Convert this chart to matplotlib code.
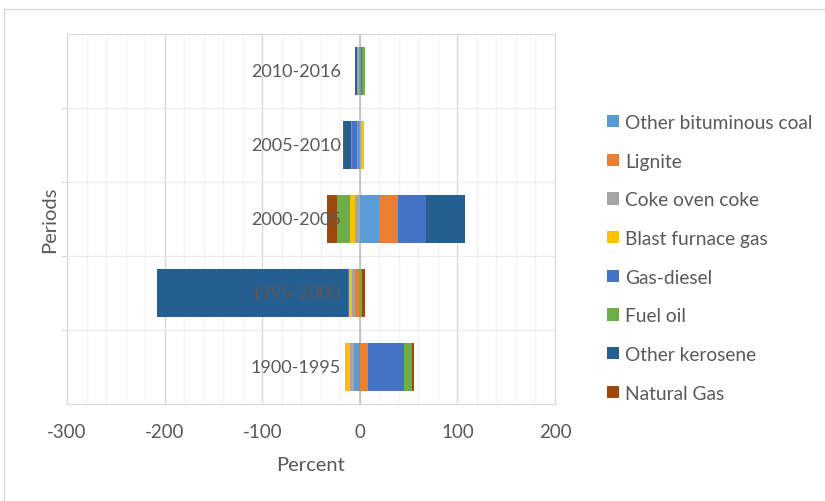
import matplotlib.pyplot as plt
from matplotlib.patches import Patch, Rectangle
from matplotlib.transforms import offset_copy

plt.rcParams['font.family'] = ['Lato', 'DejaVu Sans']
plt.rcParams['axes.unicode_minus'] = False

periods = ['1900-1995', '1995-2000', '2000-2005', '2005-2010', '2010-2016']
fuels = ['Other bituminous coal', 'Lignite', 'Coke oven coke', 'Blast furnace gas',
         'Gas-diesel', 'Fuel oil', 'Other kerosene', 'Natural Gas']
colors = ['#5B9BD5', '#ED7D31', '#A5A5A5', '#FFC000',
          '#4472C4', '#70AD47', '#255E91', '#9E480E']

# percent change per period, one list per fuel
other_bituminous = [-6, -0.5, 20, -1.5, 1.5]
lignite = [8.5, -4, 19, -1.7, -1.3]
coke_oven = [-4, -3.5, -5, 1.5, -2]
blast_furnace = [-5, -3, -5, 3, 0]
gas_diesel = [36.5, -0.7, 29, -4.8, 0.7]
fuel_oil = [8, 2, -13, -0.7, 3.3]
other_kerosene = [0, -196, 40, -7, -1]
natural_gas = [2.7, 3.5, -11, -1.5, -1]

series = [other_bituminous, lignite, coke_oven, blast_furnace,
          gas_diesel, fuel_oil, other_kerosene, natural_gas]

text_col = '#595959'
grid_col = '#D9D9D9'

fig = plt.figure(figsize=(8.25, 5.02), dpi=100)
ax = fig.add_axes([67 / 825, 1 - 405 / 502, 488 / 825, 370 / 502])

# Excel-style stacking: positives build right from 0, negatives build left
pos = [0.0] * len(periods)
neg = [0.0] * len(periods)
ypos = list(range(len(periods)))
for vals, col in zip(series, colors):
    base = []
    for i, v in enumerate(vals):
        if v >= 0:
            base.append(pos[i])
            pos[i] += v
        else:
            base.append(neg[i])
            neg[i] += v
    ax.barh(ypos, vals, left=base, height=0.64, color=col, linewidth=0, zorder=2)

ax.set_xlim(-300, 200)
ax.set_ylim(-0.5, len(periods) - 0.5)
ax.set_xticks(range(-300, 201, 100))
ax.set_xticks(range(-300, 201, 20), minor=True)
ax.set_yticks([i + 0.5 for i in range(len(periods) - 1)])
ax.set_yticklabels([])
ax.grid(which='minor', axis='x', color='#F2F2F2', lw=1, zorder=0)
ax.grid(which='major', axis='x', color=grid_col, lw=1, zorder=0)
ax.grid(which='major', axis='y', color='#EBEBEB', lw=1, zorder=0)
ax.axvline(0, color='#BFBFBF', lw=1.2, zorder=1)
ax.set_axisbelow(True)
ax.tick_params(which='both', length=0, labelsize=13.5, labelcolor=text_col, pad=14)
ax.tick_params(axis='y', which='both', length=4, color=grid_col)
for s in ax.spines.values():
    s.set_color(grid_col)

# period names sit beside the zero line, on top of the bars
lab_tr = offset_copy(ax.transData, fig=fig, x=-19, y=0, units='dots')
for i, p in enumerate(periods):
    ax.text(0, i, p, transform=lab_tr, ha='right', va='center',
            fontsize=13, color=text_col, zorder=5)

fig.text(311 / 825, 1 - 466 / 502, 'Percent', ha='center', va='center',
         fontsize=14.5, color=text_col)
fig.text(50 / 825, 1 - 220 / 502, 'Periods', ha='center', va='center',
         rotation=90, fontsize=14.5, color=text_col)

handles = [Patch(facecolor=c, edgecolor='none') for c in colors]
ax.legend(handles, fuels, loc='upper left', bbox_to_anchor=(607 / 825, 1 - 115 / 502),
          bbox_transform=fig.transFigure, frameon=False, fontsize=13.8,
          handlelength=0.62, handleheight=0.62, handletextpad=0.33,
          labelspacing=1.13, borderpad=0, borderaxespad=0, labelcolor=text_col)

fig.patches.append(Rectangle((4 / 825, -0.01), 1, 1 - 10 / 502 + 0.01,
                             transform=fig.transFigure, fill=False,
                             edgecolor=grid_col, lw=1))

fig.savefig('out.png', dpi=100)
